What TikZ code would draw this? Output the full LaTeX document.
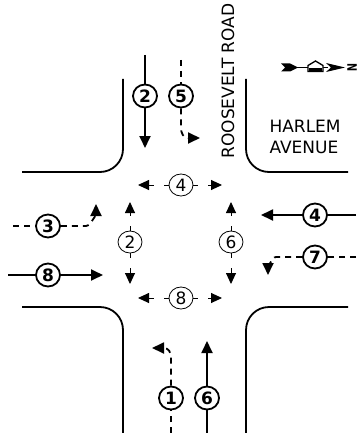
\documentclass[tikz,border=0pt]{standalone}
\usepackage{fontspec}
\setmainfont{DejaVu Sans}
\usetikzlibrary{arrows.meta,shapes.geometric}
\tikzset{
  curb/.style={line width=1.8pt, rounded corners=23pt},
  lane/.style={line width=1.8pt},
  lanedash/.style={line width=1.8pt, dash pattern=on 6pt off 5pt},
  tip/.style={-{Triangle[length=12pt,width=11pt]}},
  ptip/.style={-{Triangle[length=11pt,width=10pt]}},
  bc/.style={draw, ellipse, line width=1.8pt, minimum width=24pt, minimum height=23pt, inner sep=0pt, font=\bfseries\fontsize{17}{17}\selectfont},
  tc/.style={draw, ellipse, line width=0.8pt, minimum width=24pt, minimum height=22pt, inner sep=0pt, font=\fontsize{17}{17}\selectfont},
  ped/.style={line width=0.9pt, dash pattern=on 5pt off 10pt},
  lbl/.style={font=\fontsize{17}{21}\selectfont},
}
\begin{document}
\begin{tikzpicture}[x=1pt,y=-1pt]
\useasboundingbox (0,0) rectangle (360,433);
% curbs
\draw[curb] (22,172) -- (123,172) -- (123,79);
\draw[curb] (246,79) -- (246,172) -- (348,172);
\draw[curb] (22,307) -- (123,307) -- (123,433);
\draw[curb] (348,307) -- (246,307) -- (246,433);
% labels
\node[lbl, rotate=90] (road) at (228,81) {ROOSEVELT ROAD};
\node[lbl, align=left, anchor=west] (harlem) at (266,137) {HARLEM\\AVENUE};
% compass
\fill (281,63.5) -- (290,63.5) -- (298,67.5) -- (290,71.5) -- (281,71.5) -- (285,67.5) -- cycle;
\draw[line width=1.6pt] (296,67.5) -- (328,67.5);
\draw[line width=1.3pt, fill=white] (308,71.5) -- (323,71.5) -- (323,65.5) -- (315.5,61) -- (308,65.5) -- cycle;
\fill (309,68) rectangle (322,71.5);
\fill (345,67.5) -- (326,63) -- (331,67.5) -- (326,72) -- cycle;
\node[font=\bfseries\fontsize{13}{13}\selectfont, rotate=-90, inner sep=0pt] (north) at (352,67.5) {\scalebox{0.75}[1]{N}};
% southbound through 2
\coordinate (s2a) at (145,55);
\node[bc] (c2) at (145,96) {2};
\coordinate (s2b) at (145,148);
\draw[lane] (s2a) -- (c2);
\draw[lane, tip] (c2) -- (s2b);
% southbound left 5
\coordinate (s5a) at (181,60);
\node[bc] (c5) at (181,96) {5};
\coordinate (s5m) at (181,128);
\coordinate (s5n) at (188,138);
\coordinate (s5b) at (200,138);
\draw[lanedash] (s5a) -- (c5);
\draw[lanedash, tip] (c5) -- (s5m) to[out=-90,in=180] (s5n) -- (s5b);
% eastbound left 3
\coordinate (e3a) at (13,226);
\node[bc] (c3) at (48,226) {3};
\coordinate (e3m) at (86,226);
\coordinate (e3n) at (96,217);
\coordinate (e3b) at (96,204);
\draw[lanedash] (e3a) -- (c3);
\draw[lanedash, tip] (c3) -- (e3m) to[out=0,in=90] (e3n) -- (e3b);
% eastbound through 8
\coordinate (e8a) at (8,275);
\node[bc] (c8) at (48,275) {8};
\coordinate (e8b) at (103,275);
\draw[lane] (e8a) -- (c8);
\draw[lane, tip] (c8) -- (e8b);
% westbound through 4
\coordinate (w4a) at (356,215);
\node[bc] (c4) at (315,215) {4};
\coordinate (w4b) at (261,215);
\draw[lane] (w4a) -- (c4);
\draw[lane, tip] (c4) -- (w4b);
% westbound left 7
\coordinate (w7a) at (356,257);
\node[bc] (c7) at (315,257) {7};
\coordinate (w7m) at (276,257);
\coordinate (w7n) at (268,265);
\coordinate (w7b) at (268,275);
\draw[lanedash] (w7a) -- (c7);
\draw[lanedash, tip] (c7) -- (w7m) to[out=180,in=-90] (w7n) -- (w7b);
% northbound left 1
\coordinate (n1a) at (171,433);
\node[bc] (c1) at (171,398) {1};
\coordinate (n1m) at (171,357);
\coordinate (n1n) at (164,348);
\coordinate (n1b) at (152,348);
\draw[lanedash] (n1a) -- (c1);
\draw[lanedash, tip] (c1) -- (n1m) to[out=90,in=0] (n1n) -- (n1b);
% northbound through 6
\coordinate (n6a) at (207,433);
\node[bc] (c6) at (207,398) {6};
\coordinate (n6b) at (207,341);
\draw[lane] (n6a) -- (c6);
\draw[lane, tip] (c6) -- (n6b);
% pedestrian phases
\node[tc] (p4) at (181,185) {4};
\coordinate (p4l) at (138,185);
\coordinate (p4r) at (222,185);
\draw[ped, ptip] (p4) -- (p4l);
\draw[ped, ptip] (p4) -- (p4r);
\node[tc] (p8) at (181,298) {8};
\coordinate (p8l) at (138,298);
\coordinate (p8r) at (222,298);
\draw[ped, ptip] (p8) -- (p8l);
\draw[ped, ptip] (p8) -- (p8r);
\node[tc] (p2) at (130,242) {2};
\coordinate (p2u) at (130,202);
\coordinate (p2d) at (130,284);
\draw[ped, ptip] (p2) -- (p2u);
\draw[ped, ptip] (p2) -- (p2d);
\node[tc] (p6) at (231,242) {6};
\coordinate (p6u) at (231,202);
\coordinate (p6d) at (231,284);
\draw[ped, ptip] (p6) -- (p6u);
\draw[ped, ptip] (p6) -- (p6d);
\end{tikzpicture}
\end{document}
